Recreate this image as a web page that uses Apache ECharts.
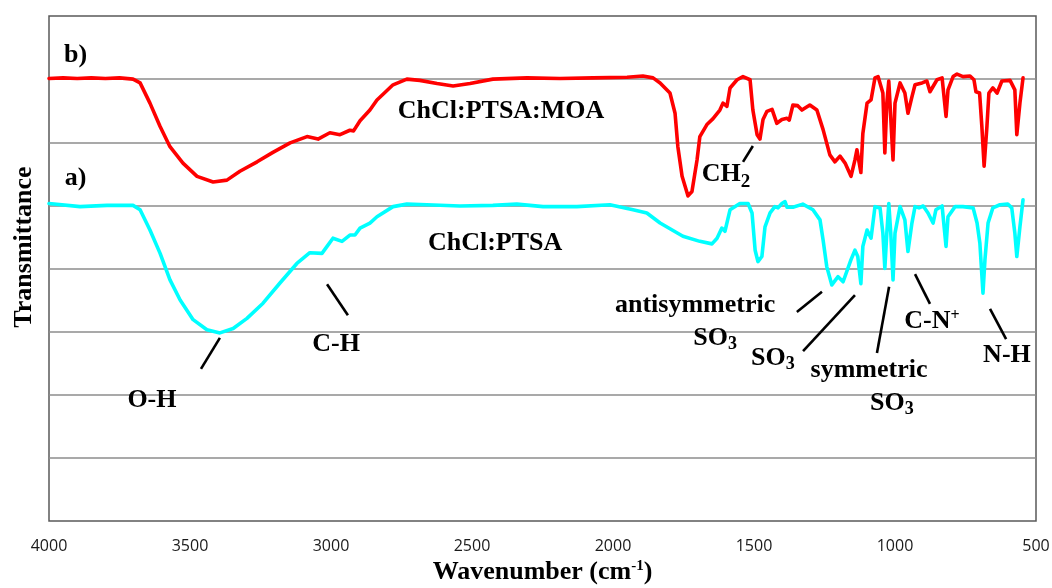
<!DOCTYPE html>
<html>
<head>
<meta charset="utf-8">
<script src="https://cdn.jsdelivr.net/npm/echarts@6/dist/echarts.min.js"></script>
<style>html,body{margin:0;padding:0;background:#fff}#c{width:1052px;height:588px}</style>
</head>
<body>
<div id="c"></div>
<script>
// ---- data (wavenumber in cm-1, transmittance in arbitrary offset units) ----
const redWavenumber = [4000,3950,3900,3850,3800,3750,3702,3677,3642,3606,3571,3525,3475,3418,3369,3323,3262,3206,3145,3085,3046,3004,2968,2933,2920,2897,2862,2837,2780,2731,2685,2624,2567,2507,2426,2305,2188,2071,1950,1894,1858,1833,1798,1780,1770,1755,1734,1720,1702,1692,1667,1646,1621,1610,1596,1585,1560,1539,1514,1504,1489,1479,1468,1454,1436,1419,1401,1383,1375,1362,1345,1330,1302,1277,1255,1231,1213,1195,1177,1156,1142,1135,1121,1114,1099,1085,1071,1060,1043,1036,1029,1022,1015,1007,1000,982,965,954,940,929,904,887,876,851,833,819,812,794,780,759,734,720,713,700,692,684,674,667,653,638,621,592,575,568,557,546];
const redTransmittance = [7.01,7.02,7.01,7.02,7.01,7.02,7.00,6.94,6.62,6.25,5.93,5.67,5.46,5.37,5.40,5.54,5.69,5.84,5.99,6.09,6.05,6.15,6.12,6.19,6.18,6.34,6.51,6.67,6.91,7.00,6.98,6.93,6.89,6.93,7.00,7.02,7.01,7.02,7.03,7.05,7.02,6.94,6.78,6.46,5.93,5.46,5.15,5.22,5.72,6.09,6.28,6.37,6.51,6.62,6.57,6.86,6.99,7.04,6.99,6.51,6.12,6.05,6.36,6.49,6.52,6.30,6.36,6.38,6.35,6.59,6.58,6.51,6.59,6.51,6.20,5.80,5.69,5.78,5.67,5.46,5.72,5.88,5.52,6.14,6.62,6.67,7.02,7.04,6.78,5.83,6.62,6.97,6.95,5.72,6.62,6.94,6.78,6.46,6.72,6.91,6.94,6.97,6.80,6.99,7.02,6.41,6.83,7.04,7.08,7.04,7.05,6.99,6.80,6.78,6.25,5.62,6.25,6.78,6.86,6.78,6.97,6.98,6.83,6.12,6.62,7.02];

const cyanWavenumber = [4000,3890,3794,3702,3677,3642,3606,3571,3535,3489,3440,3394,3347,3298,3241,3181,3121,3075,3032,3014,2993,2961,2933,2915,2897,2862,2837,2780,2731,2660,2543,2426,2341,2248,2128,2011,1929,1880,1833,1752,1692,1649,1631,1614,1603,1585,1550,1521,1507,1496,1486,1472,1461,1443,1426,1415,1401,1390,1383,1362,1327,1291,1266,1255,1242,1224,1202,1184,1177,1156,1142,1132,1121,1114,1099,1085,1071,1053,1043,1036,1029,1022,1015,1007,1000,982,965,954,940,929,915,900,883,865,855,833,819,812,787,759,723,709,699,688,681,670,653,628,600,586,575,568,557,546];
const cyanTransmittance = [5.03,4.98,5.00,5.00,4.93,4.61,4.24,3.82,3.50,3.19,3.03,2.98,3.05,3.21,3.45,3.77,4.08,4.25,4.24,4.35,4.48,4.43,4.53,4.53,4.64,4.72,4.82,4.98,5.02,5.01,4.99,5.00,5.02,4.98,4.98,5.01,4.93,4.88,4.72,4.51,4.43,4.39,4.48,4.64,4.59,4.93,5.03,5.03,4.88,4.29,4.11,4.19,4.66,4.88,4.98,4.96,5.03,5.06,4.97,4.97,5.02,4.93,4.77,4.45,4.03,3.74,3.87,3.79,3.82,4.14,4.29,4.19,3.76,4.35,4.61,4.48,4.98,4.96,4.56,4.00,4.56,5.03,4.56,3.82,4.56,4.98,4.77,4.27,4.72,4.98,4.96,4.99,4.88,4.72,4.93,4.99,4.35,4.82,4.98,4.98,4.96,4.72,4.40,3.61,4.14,4.72,4.96,5.01,5.02,4.96,4.56,4.19,4.66,5.09];

const xTickValues = [4000,3500,3000,2500,2000,1500,1000,500];
const xTickLabels = ['4000','3500','3000','2500','2000','1500','1000','500'];

// annotation texts and their anchors (in data units: wavenumber, transmittance)
const labelTexts = ['b)','a)','ChCl:PTSA:MOA','ChCl:PTSA','{m|CH}{s2|2}','O-H','C-H','antisymmetric','{m|SO}{s|3}','{m|SO}{s|3}','symmetric','{m|SO}{s|3}','{m|C-N}{p|+}','N-H'];
const labelWavenumber = [3906,3906,2397,2418,1599,3635,2982,1709,1638,1433,1092,1011,869,603];
const labelTransmittance = [7.37,5.43,6.49,4.40,5.49,1.92,2.80,3.41,2.90,2.57,2.38,1.87,3.17,2.63];

// leader lines: [from, to] in data units
const leaderFrom = [[3394,2.90],[3014,3.75],[1539,5.69],[1348,3.31],[1326,2.69],[1064,2.66],[929,3.91],[663,3.36]];
const leaderTo   = [[3461,2.41],[2940,3.26],[1504,5.94],[1259,3.63],[1142,3.58],[1021,3.71],[876,3.44],[606,2.88]];

// ---- chart ----
const chart = echarts.init(document.getElementById('c'), null, {renderer:'canvas'});
const SERIF = '"Liberation Serif","Times New Roman",serif';
const zip = (a,b) => a.map((v,i) => [v, b[i]]);

const option = {
  animation: false,
  backgroundColor: '#ffffff',
  grid: {left:49, right:16, top:16, bottom:67, show:true, borderColor:'#595959', borderWidth:1.5,
         backgroundColor:'transparent', containLabel:false, outerBoundsMode:'none'},
  xAxis: {
    type:'value', inverse:true, min:500, max:4000, interval:500,
    axisLine:{show:false}, axisTick:{show:false}, splitLine:{show:false},
    axisLabel:{margin:17, color:'#1a1a1a', fontFamily:'"Open Sans", sans-serif', fontSize:16,
      formatter: v => { const i = xTickValues.indexOf(v); return i >= 0 ? xTickLabels[i] : ''; }},
    name:'{n|Wavenumber (cm}{p|-1}{n|)}', nameLocation:'middle', nameGap:31,
    nameTextStyle:{rich:{
      n:{fontFamily:SERIF, fontWeight:'bold', fontSize:26, color:'#000', lineHeight:26, verticalAlign:'middle'},
      p:{fontFamily:SERIF, fontWeight:'bold', fontSize:15, color:'#000', lineHeight:15, padding:[0,0,12,0], verticalAlign:'middle'}
    }}
  },
  yAxis: {
    type:'value', min:0, max:8, interval:1,
    axisLine:{show:false}, axisTick:{show:false}, axisLabel:{show:false},
    splitLine:{show:true, showMinLine:false, showMaxLine:false, lineStyle:{color:'#8c8c8c', width:1.5}}
  },
  series: [
    {name:'ChCl:PTSA:MOA', type:'line', data: zip(redWavenumber, redTransmittance), showSymbol:false, symbol:'none',
     sampling:null, smooth:false, lineStyle:{color:'#ff0000', width:3.6, cap:'round', join:'round'}, silent:true, z:3},
    {name:'ChCl:PTSA', type:'line', data: zip(cyanWavenumber, cyanTransmittance), showSymbol:false, symbol:'none',
     sampling:null, smooth:false, lineStyle:{color:'#00ffff', width:3.6, cap:'round', join:'round'}, silent:true, z:3,
     markLine:{silent:true, symbol:['none','none'], animation:false, label:{show:false}, emphasis:{disabled:true},
       lineStyle:{color:'#000', width:2.6, type:'solid'},
       data: leaderFrom.map((f,i) => [{coord:f}, {coord:leaderTo[i]}])}}
  ]
};
chart.setOption(option);

const rich = {
  m:{fontFamily:SERIF, fontWeight:'bold', fontSize:26, lineHeight:26, fill:'#000', verticalAlign:'middle'},
  s:{fontFamily:SERIF, fontWeight:'bold', fontSize:18, lineHeight:18, fill:'#000', padding:[12,0,0,0], verticalAlign:'middle'},
  s2:{fontFamily:SERIF, fontWeight:'bold', fontSize:19, lineHeight:19, fill:'#000', padding:[15,0,0,0], verticalAlign:'middle'},
  p:{fontFamily:SERIF, fontWeight:'bold', fontSize:16, lineHeight:16, fill:'#000', padding:[0,0,10,0], verticalAlign:'middle'}
};
const graphics = labelTexts.map((t, i) => {
  const p = chart.convertToPixel({gridIndex:0}, [labelWavenumber[i], labelTransmittance[i]]);
  const txt = t.indexOf('{') === 0 ? t : '{m|' + t + '}';
  return {type:'text', x:p[0], y:p[1], silent:true, z:100,
    style:{text:txt, rich:rich, align:'center', verticalAlign:'middle', fill:'#000', font:'bold 26px ' + SERIF}};
});
graphics.push({type:'text', x:24, y:247, rotation:Math.PI/2, silent:true, z:100,
  style:{text:'Transmittance', align:'center', verticalAlign:'middle', fill:'#000', font:'bold 26px ' + SERIF}});
chart.setOption({graphic: graphics});
</script>
</body>
</html>
